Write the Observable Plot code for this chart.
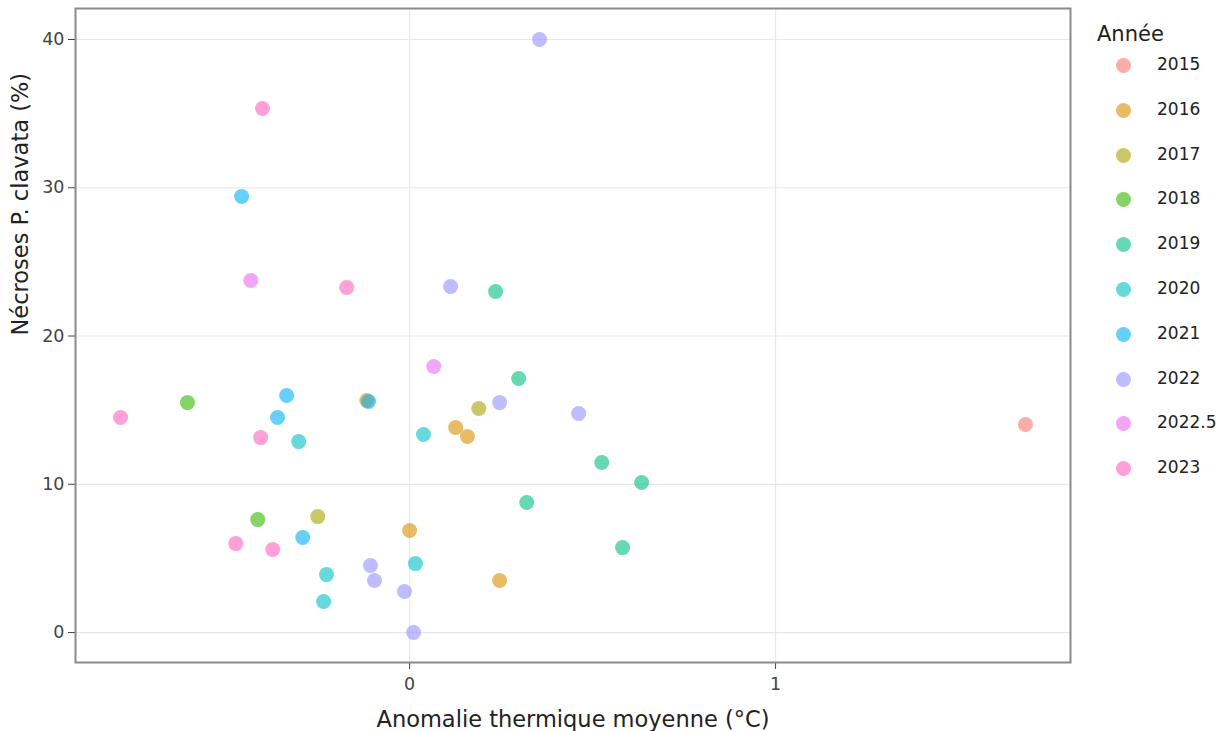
<!DOCTYPE html>
<html>
<head>
<meta charset="utf-8">
<script src="https://cdn.jsdelivr.net/npm/d3@7"></script>
<script src="https://cdn.jsdelivr.net/npm/@observablehq/plot@0.6"></script>
<style>
  html, body { margin: 0; padding: 0; background: #fff; }
  body { width: 1230px; height: 731px; overflow: hidden; position: relative; font-family: "DejaVu Sans", Verdana, sans-serif; }
  #chart { position: absolute; left: 0; top: 0; }
  #legend { position: absolute; left: 1097px; top: 22px; color: #222; }
  #legend .title { font-size: 21px; margin-bottom: 10px; }
  #legend .item { position: relative; height: 44.8px; }
  #legend .dot { position: absolute; left: 19px; width: 15px; height: 15px; border-radius: 50%; top: 2px; }
  #legend .lab { position: absolute; left: 60px; top: -2px; font-size: 17px; }
</style>
</head>
<body>
<div id="chart"></div>
<div id="legend"></div>
<script>
// Categories (years) and palette
const years = ["2015", "2016", "2017", "2018", "2019", "2020", "2021", "2022", "2022.5", "2023"];
const colors = ["#F8766D", "#D89000", "#A3A500", "#39B600", "#00BF7D", "#00BFC4", "#00B0F6", "#9590FF", "#E76BF3", "#FF62BC"];

// Series values: [anomalie (°C), nécroses (%)]
const y2015 = [[1.683, 14.03]];
const y2016 = [[-0.117, 15.65], [0.126, 13.83], [0.158, 13.22], [0.0, 6.88], [0.246, 3.51]];
const y2017 = [[0.189, 15.11], [-0.251, 7.82]];
const y2018 = [[-0.607, 15.51], [-0.415, 7.62]];
const y2019 = [[0.235, 23.0], [0.298, 17.13], [0.320, 8.77], [0.525, 11.47], [0.634, 10.12], [0.582, 5.73]];
const y2020 = [[-0.303, 12.88], [0.038, 13.36], [0.016, 4.65], [-0.227, 3.91], [-0.235, 2.09]];
const y2021 = [[-0.459, 29.41], [-0.336, 15.99], [-0.361, 14.50], [-0.292, 6.41], [-0.112, 15.58]];
const y2022 = [[0.355, 40.0], [0.112, 23.34], [0.246, 15.51], [0.462, 14.77], [-0.107, 4.52], [-0.096, 3.51], [-0.014, 2.77], [0.011, 0.0]];
const y2022_5 = [[-0.434, 23.74], [0.066, 17.94]];
const y2023 = [[-0.402, 35.35], [-0.790, 14.50], [-0.172, 23.27], [-0.407, 13.15], [-0.475, 6.0], [-0.374, 5.6]];

// Tick labels
const xTicks = [0, 1];
const yTicks = [0, 10, 20, 30, 40];
const xTitle = "Anomalie thermique moyenne (°C)";
const yTitle = "Nécroses P. clavata (%)";
const legendTitle = "Année";

const series = [y2015, y2016, y2017, y2018, y2019, y2020, y2021, y2022, y2022_5, y2023];
const data = [];
series.forEach((arr, i) => arr.forEach(([x, y]) => data.push({annee: years[i], x, y})));

const font = "DejaVu Sans, Verdana, sans-serif";

const chart = Plot.plot({
  width: 1230,
  height: 731,
  marginLeft: 75,
  marginRight: 160,
  marginTop: 8,
  marginBottom: 69,
  style: { fontFamily: font, background: "#fff" },
  x: { domain: [-0.913, 1.806] },
  y: { domain: [-2.02, 42.09] },
  color: { type: "ordinal", domain: years, range: colors },
  marks: [
    Plot.gridX(xTicks, { stroke: "#e8e8e8", strokeOpacity: 1, strokeWidth: 1.2 }),
    Plot.gridY(yTicks, { stroke: "#e8e8e8", strokeOpacity: 1, strokeWidth: 1.2 }),
    Plot.axisX(xTicks, { tickSize: 7, tickPadding: 8, fontSize: 17.5, color: "#444", stroke: "#444", label: null, tickFormat: d3.format("d") }),
    Plot.axisY(yTicks, { tickSize: 7, tickPadding: 4, fontSize: 17.5, color: "#444", stroke: "#444", label: null, tickFormat: d3.format("d") }),
    Plot.dot(data, { x: "x", y: "y", fill: "annee", r: 7.5, fillOpacity: 0.6, stroke: null }),
    Plot.frame({ stroke: "#8a8a8a", strokeWidth: 2 }),
    Plot.text([xTitle], { frameAnchor: "bottom", dy: 64, fontSize: 22.5, fill: "#222", lineAnchor: "bottom" }),
    Plot.text([yTitle], { frameAnchor: "left", dx: -55, rotate: -90, fontSize: 22.5, fill: "#222" })
  ]
});
document.getElementById("chart").appendChild(chart);

// Legend
const leg = document.getElementById("legend");
const t = document.createElement("div");
t.className = "title";
t.textContent = legendTitle;
leg.appendChild(t);
years.forEach((yr, i) => {
  const it = document.createElement("div");
  it.className = "item";
  const d = document.createElement("span");
  d.className = "dot";
  d.style.background = colors[i];
  d.style.opacity = 0.6;
  const l = document.createElement("span");
  l.className = "lab";
  l.textContent = yr;
  it.appendChild(d);
  it.appendChild(l);
  leg.appendChild(it);
});
</script>
</body>
</html>
